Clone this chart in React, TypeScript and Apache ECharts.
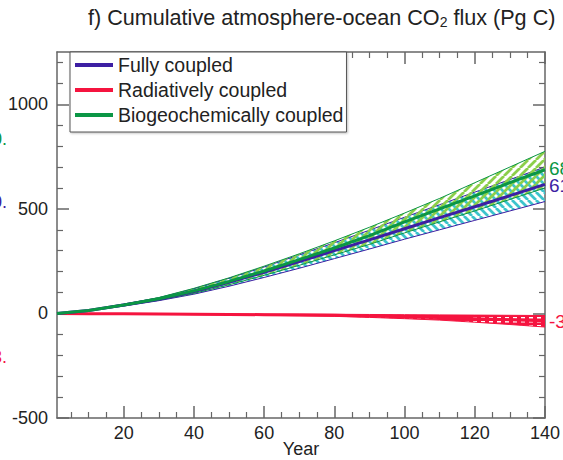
import React, { useEffect, useRef } from "react";
import * as echarts from "echarts";

const years = [1, 10, 20, 30, 40, 50, 60, 70, 80, 90, 100, 110, 120, 130, 140];

const fullMean = [0, 14, 40, 68, 105, 149, 197, 248, 300, 352, 405, 458, 510, 563, 617];
const fullLow = [0, 12, 35, 61, 92, 130, 172, 216, 262, 308, 355, 400, 445, 490, 535];
const fullHigh = [0, 16, 45, 75, 118, 168, 222, 280, 338, 398, 460, 520, 580, 640, 700];

const bioMean = [0, 14, 40, 70, 108, 153, 203, 257, 313, 372, 438, 500, 562, 625, 687];
const bioLow = [0, 13, 37, 64, 96, 137, 182, 230, 280, 330, 385, 438, 490, 545, 600];
const bioHigh = [0, 15, 43, 76, 120, 170, 226, 285, 347, 412, 480, 550, 625, 700, 775];

const radMean = [0, -1, -2, -3, -4, -5, -6, -7, -9, -12, -16, -20, -25, -30, -35];
const radLow = [0, -1, -3, -4, -6, -7, -9, -11, -14, -19, -25, -32, -42, -53, -65];
const radHigh = [0, 0, -1, -1, -2, -2, -3, -3, -4, -5, -6, -7, -8, -9, -10];

const xMajor = [20, 40, 60, 80, 100, 120, 140];
const xMinor = [5, 10, 15, 25, 30, 35, 45, 50, 55, 65, 70, 75, 85, 90, 95, 105, 110, 115, 125, 130, 135];
const yMajor = [-500, 0, 500, 1000];
const yMinor = [-400, -300, -200, -100, 100, 200, 300, 400, 600, 700, 800, 900, 1100, 1200];

const BLUE = "#3d1fa3";
const RED = "#f5143f";
const GREEN = "#0b9645";
const CYAN = "#3cc4cc";
const LGREEN = "#8ccf4a";
const AXIS = "#666";
const FONT = "'Liberation Sans', Arial, Helvetica, sans-serif";

function makePattern(color: string, dir: number) {
  const c = document.createElement("canvas");
  c.width = 8;
  c.height = 8;
  const ctx = c.getContext("2d")!;
  ctx.strokeStyle = color;
  ctx.lineWidth = 2.8;
  ctx.beginPath();
  for (let k = -8; k <= 16; k += 8) {
    if (dir > 0) {
      ctx.moveTo(k, 8);
      ctx.lineTo(k + 8, 0);
    } else {
      ctx.moveTo(k, 0);
      ctx.lineTo(k + 8, 8);
    }
  }
  ctx.stroke();
  return { image: c.toDataURL(), repeat: "repeat", imageWidth: 8, imageHeight: 8 } as any;
}

function makeRedPattern() {
  const c = document.createElement("canvas");
  c.width = 8;
  c.height = 4;
  const ctx = c.getContext("2d")!;
  ctx.fillStyle = RED;
  ctx.fillRect(0, 0, 8, 4);
  ctx.fillStyle = "#ffffff";
  ctx.fillRect(1, 1, 4, 1.5);
  return { image: c.toDataURL(), repeat: "repeat", imageWidth: 8, imageHeight: 4 } as any;
}

const pairs = (ys: number[]) => years.map((x, i) => [x, ys[i]]);

export default function App() {
  const ref = useRef<HTMLDivElement>(null);
  useEffect(() => {
    if (!ref.current) return;
    const chart = echarts.init(ref.current, undefined, { renderer: "svg" });

    const band = (name: string, lo: number[], hi: number[], edge: string, fill: any) => ({
      name,
      type: "custom",
      data: [[years[0], lo[0]]],
      encode: { x: 0, y: 1 },
      clip: true,
      z: 2,
      silent: true,
      renderItem: (_params: any, api: any) => {
        const up = years.map((x, i) => api.coord([x, hi[i]]));
        const dn = years.map((x, i) => api.coord([x, lo[i]]));
        const poly = up.concat(dn.slice().reverse());
        return {
          type: "group",
          children: [
            { type: "polygon", shape: { points: poly }, style: { fill, stroke: "none" } },
            { type: "polyline", shape: { points: up }, style: { fill: "none", stroke: edge, lineWidth: 1 } },
            { type: "polyline", shape: { points: dn }, style: { fill: "none", stroke: edge, lineWidth: 1 } },
          ],
        };
      },
    });

    const meanLine = (name: string, ys: number[], color: string, off: number[]) => ({
      name,
      type: "line",
      data: pairs(ys),
      symbol: "none",
      lineStyle: { color, width: 3 },
      itemStyle: { color },
      z: 5,
      endLabel: {
        show: true,
        formatter: (p: any) => String(p.value[1]),
        color,
        fontSize: 19,
        fontFamily: FONT,
        distance: 4,
        offset: off,
      },
    });

    const xBase = { type: "value", min: 1, max: 140, splitLine: { show: false } };
    const yBase = { type: "value", min: -500, max: 1250, splitLine: { show: false } };
    const line = { show: true, onZero: false, lineStyle: { color: AXIS, width: 1.5 } };
    const noLine = { show: false, onZero: false };
    const majTick = (vals: number[]) => ({ show: true, inside: true, length: 12, customValues: vals, lineStyle: { color: AXIS, width: 1.5 } });
    const minTick = (vals: number[]) => ({ show: true, inside: true, length: 6, customValues: vals, lineStyle: { color: AXIS, width: 1.2 } });

    chart.setOption({
      animation: false,
      backgroundColor: "#ffffff",
      title: {
        text: "f) Cumulative atmosphere-ocean CO{sub|2} flux (Pg C)",
        left: 88,
        top: 6,
        padding: 0,
        textStyle: {
          fontSize: 21.6,
          fontWeight: "normal",
          color: "#222",
          fontFamily: FONT,
          rich: { sub: { fontSize: 14, verticalAlign: "bottom", padding: [9, 0, 0, 0], color: "#222", fontFamily: FONT } },
        },
      },
      legend: {
        data: ["Fully coupled", "Radiatively coupled", "Biogeochemically coupled"],
        orient: "vertical",
        left: 70,
        top: 52,
        icon: "rect",
        itemWidth: 38,
        itemHeight: 4,
        itemGap: 3,
        padding: [2, 3, 6, 5],
        backgroundColor: "#ffffff",
        borderColor: "#555",
        borderWidth: 1,
        shadowColor: "rgba(0,0,0,0.25)",
        shadowBlur: 2,
        shadowOffsetX: 1,
        shadowOffsetY: 1,
        textStyle: { fontSize: 19.5, color: "#222", fontFamily: FONT, lineHeight: 22 },
        z: 10,
      },
      grid: { left: 57, right: 18, top: 52, bottom: 42, containLabel: false, outerBoundsMode: "none" },
      xAxis: [
        {
          ...xBase,
          position: "bottom",
          name: "Year",
          nameLocation: "middle",
          nameGap: 22,
          nameMoveOverlap: false,
          nameTextStyle: { fontSize: 18, color: "#222", fontFamily: FONT },
          axisLine: line,
          axisTick: majTick(xMajor),
          axisLabel: { show: true, customValues: xMajor, fontSize: 18, color: "#222", fontFamily: FONT, margin: 6 },
        },
        { ...xBase, position: "bottom", axisLine: noLine, axisTick: minTick(xMinor), axisLabel: { show: false } },
        { ...xBase, position: "top", axisLine: line, axisTick: majTick(xMajor), axisLabel: { show: false } },
        { ...xBase, position: "top", axisLine: noLine, axisTick: minTick(xMinor), axisLabel: { show: false } },
      ],
      yAxis: [
        {
          ...yBase,
          position: "left",
          axisLine: line,
          axisTick: majTick(yMajor),
          axisLabel: {
            show: true,
            customValues: yMajor,
            formatter: (v: number) => String(v),
            fontSize: 18,
            color: "#222",
            fontFamily: FONT,
            margin: 9,
          },
        },
        { ...yBase, position: "left", axisLine: noLine, axisTick: minTick(yMinor), axisLabel: { show: false } },
        { ...yBase, position: "right", axisLine: line, axisTick: majTick(yMajor), axisLabel: { show: false } },
        { ...yBase, position: "right", axisLine: noLine, axisTick: minTick(yMinor), axisLabel: { show: false } },
      ],
      graphic: [
        { type: "text", right: 556, top: 130, style: { text: "0.", fontSize: 18, fill: GREEN, fontFamily: FONT } },
        { type: "text", right: 556, top: 193, style: { text: "0.", fontSize: 18, fill: BLUE, fontFamily: FONT } },
        { type: "text", right: 556, top: 348, style: { text: "3.", fontSize: 18, fill: RED, fontFamily: FONT } },
      ],
      series: [
        band("fullBand", fullLow, fullHigh, BLUE, makePattern(CYAN, -1)),
        band("bioBand", bioLow, bioHigh, GREEN, makePattern(LGREEN, 1)),
        band("radBand", radLow, radHigh, RED, makeRedPattern()),
        meanLine("Radiatively coupled", radMean, RED, [0, 1]),
        meanLine("Fully coupled", fullMean, BLUE, [0, 1]),
        meanLine("Biogeochemically coupled", bioMean, GREEN, [0, -1]),
      ],
    });
    return () => chart.dispose();
  }, []);
  return <div ref={ref} style={{ position: "absolute", left: 0, top: 0, width: 563, height: 460 }} />;
}
